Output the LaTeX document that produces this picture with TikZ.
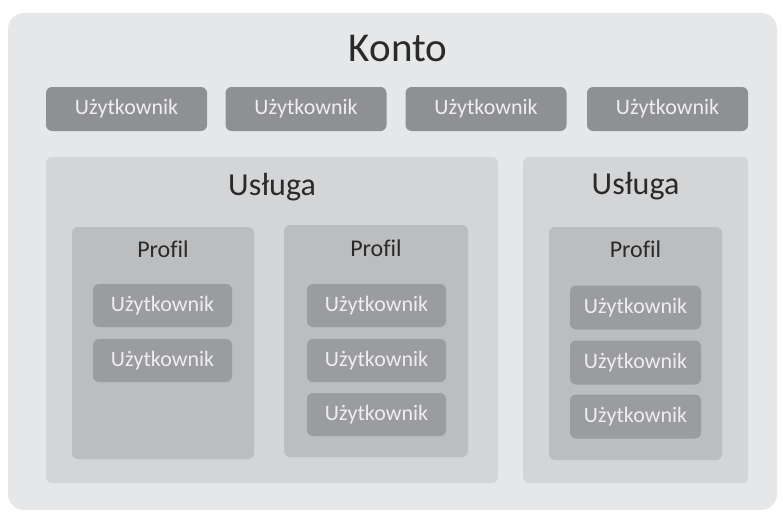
\documentclass[tikz,border=0pt]{standalone}
\usepackage{fontspec}
\setmainfont[Ligatures=NoCommon]{Carlito}
\definecolor{outerbg}{HTML}{E6E7E8}
\definecolor{svcbg}{HTML}{D4D5D7}
\definecolor{profbg}{HTML}{BCBDBF}
\definecolor{topuser}{HTML}{8F9093}
\definecolor{inuser}{HTML}{9B9C9F}
\definecolor{darktxt}{HTML}{2A2A2A}
\definecolor{usertxt}{HTML}{EEEEEE}
\begin{document}
\begin{tikzpicture}[x=1pt,y=-1pt,
  box/.style={rectangle,rounded corners=6pt,inner sep=0pt,draw=none},
  outerbox/.style={box,fill=outerbg,rounded corners=16pt,minimum width=769pt,minimum height=497pt},
  svcbox/.style={box,fill=svcbg,minimum height=326pt},
  profbox/.style={box,fill=profbg},
  topusr/.style={box,fill=topuser,minimum width=161pt,minimum height=44pt,text=usertxt,font=\fontsize{22}{22}\selectfont},
  inusr/.style={box,fill=inuser,minimum height=43pt,text=usertxt,font=\fontsize{22}{22}\selectfont},
  ttl/.style={inner sep=0pt,text=darktxt}
]
\path[use as bounding box] (0,0) rectangle (783,511);
\node[outerbox] (konto) at (392.5,261.5) {};
\node[ttl,font=\fontsize{41}{41}\selectfont] (kontot) at (398,48) {Konto};
\node[topusr] (u1) at (126.5,109) {Użytkownik};
\node[topusr] (u2) at (306,109) {Użytkownik};
\node[topusr] (u3) at (486,109) {Użytkownik};
\node[topusr] (u4) at (667.5,109) {Użytkownik};
% services
\node[svcbox,minimum width=452pt] (s1) at (272,320) {};
\node[svcbox,minimum width=225pt] (s2) at (635.5,320) {};
\node[ttl,font=\fontsize{32}{32}\selectfont] (s1t) at (272,187) {Usługa};
\node[ttl,font=\fontsize{32}{32}\selectfont] (s2t) at (635.5,186) {Usługa};
% profiles
\node[profbox,minimum width=182pt,minimum height=232pt] (p1) at (163,343) {};
\node[profbox,minimum width=184pt,minimum height=232pt] (p2) at (376,341) {};
\node[profbox,minimum width=173pt,minimum height=233pt] (p3) at (635.5,343.5) {};
\node[ttl,font=\fontsize{24}{24}\selectfont] (p1t) at (163,249) {Profil};
\node[ttl,font=\fontsize{24}{24}\selectfont] (p2t) at (376,248) {Profil};
\node[ttl,font=\fontsize{24}{24}\selectfont] (p3t) at (635.5,249) {Profil};
% users in profiles
\node[inusr,minimum width=139pt] (a1) at (162.5,305.5) {Użytkownik};
\node[inusr,minimum width=139pt] (a2) at (162.5,360.5) {Użytkownik};
\node[inusr,minimum width=139pt] (b1) at (376.5,305.5) {Użytkownik};
\node[inusr,minimum width=139pt] (b2) at (376.5,360.5) {Użytkownik};
\node[inusr,minimum width=139pt] (b3) at (376.5,414.5) {Użytkownik};
\node[inusr,minimum width=131pt,minimum height=44pt] (c1) at (635.5,307.5) {Użytkownik};
\node[inusr,minimum width=131pt,minimum height=44pt] (c2) at (635.5,362.5) {Użytkownik};
\node[inusr,minimum width=131pt,minimum height=44pt] (c3) at (635.5,416.5) {Użytkownik};
\end{tikzpicture}
\end{document}
